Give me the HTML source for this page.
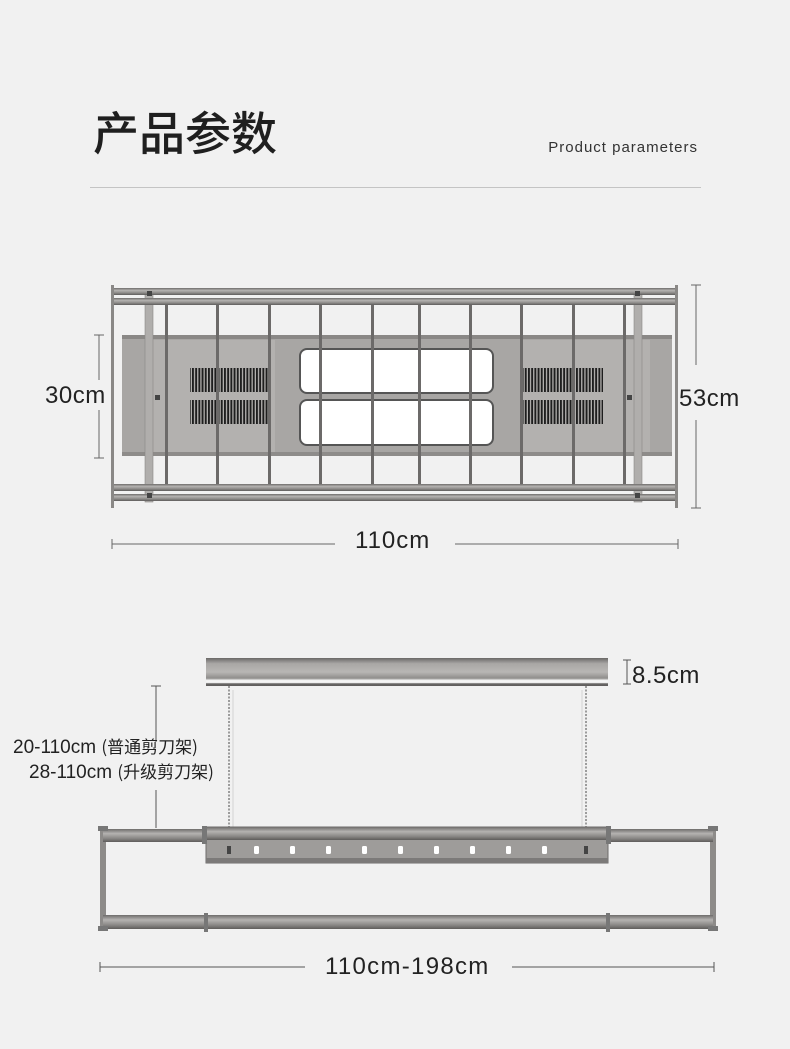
<!DOCTYPE html>
<html><head><meta charset="utf-8"><style>
html,body{margin:0;padding:0;background:#f1f1f1;}
svg{display:block}
text{font-family:"Liberation Sans","Noto Sans CJK SC",sans-serif;}
</style></head><body>
<svg width="790" height="1049" viewBox="0 0 790 1049" xmlns="http://www.w3.org/2000/svg">
<defs>
<linearGradient id="tube" x1="0" y1="0" x2="0" y2="1">
<stop offset="0" stop-color="#6e6c6b"/><stop offset="0.35" stop-color="#b5b3b1"/><stop offset="0.7" stop-color="#8c8a88"/><stop offset="1" stop-color="#5e5c5b"/>
</linearGradient>
<linearGradient id="box" x1="0" y1="0" x2="0" y2="1">
<stop offset="0" stop-color="#6a6867"/><stop offset="0.2" stop-color="#a9a7a5"/><stop offset="0.5" stop-color="#b8b6b4"/><stop offset="0.72" stop-color="#8f8d8b"/><stop offset="0.8" stop-color="#f5f5f5"/><stop offset="0.88" stop-color="#f5f5f5"/><stop offset="0.92" stop-color="#6a6867"/><stop offset="1" stop-color="#5e5c5b"/>
</linearGradient>
<pattern id="vent" width="3.2" height="10" patternUnits="userSpaceOnUse"><rect width="1.9" height="10" fill="#1e1e1e"/></pattern>
</defs>
<rect width="790" height="1049" fill="#f1f1f1"/>
<text x="93" y="150" font-size="46" font-weight="500" fill="#1f1f1f" font-family="'Noto Sans CJK SC',sans-serif">产品参数</text>
<text x="698" y="152" font-size="15" fill="#333" text-anchor="end" letter-spacing="1">Product parameters</text>
<rect x="90" y="187" width="611" height="1" fill="#c4c4c4"/>

<!-- top view -->
<rect x="122" y="335" width="550" height="121" fill="#a8a6a4"/>
<rect x="122" y="335" width="550" height="4" fill="#8a8886"/>
<rect x="122" y="452" width="550" height="4" fill="#8e8c8a"/>
<rect x="145" y="340" width="130" height="112" fill="#b3b1af"/>
<rect x="520" y="340" width="130" height="112" fill="#b3b1af"/>
<rect x="300" y="349" width="193" height="44" rx="7" fill="#fff" stroke="#555" stroke-width="2"/>
<rect x="300" y="400" width="193" height="45" rx="7" fill="#fff" stroke="#555" stroke-width="2"/>
<rect x="190" y="368" width="78" height="24" fill="url(#vent)"/>
<rect x="190" y="400" width="78" height="24" fill="url(#vent)"/>
<rect x="523" y="368" width="80" height="24" fill="url(#vent)"/>
<rect x="523" y="400" width="80" height="24" fill="url(#vent)"/>
<g fill="#6c6a69">
<rect x="165" y="303" width="3" height="183"/><rect x="216" y="303" width="3" height="183"/><rect x="268" y="303" width="3" height="183"/><rect x="319" y="303" width="3" height="183"/><rect x="371" y="303" width="3" height="183"/><rect x="418" y="303" width="3" height="183"/><rect x="469" y="303" width="3" height="183"/><rect x="520" y="303" width="3" height="183"/><rect x="572" y="303" width="3" height="183"/><rect x="623" y="303" width="3" height="183"/>
</g>
<rect x="145" y="290" width="8" height="212" fill="#b0aeac" stroke="#8a8886" stroke-width="0.6"/>
<rect x="634" y="290" width="8" height="212" fill="#b0aeac" stroke="#8a8886" stroke-width="0.6"/>
<rect x="113" y="288" width="563" height="7" fill="url(#tube)"/>
<rect x="113" y="298" width="563" height="7" fill="url(#tube)"/>
<rect x="113" y="484" width="563" height="7" fill="url(#tube)"/>
<rect x="113" y="494" width="563" height="7" fill="url(#tube)"/>
<rect x="111" y="285" width="3" height="223" fill="#8a8886"/>
<rect x="675" y="285" width="3" height="223" fill="#8a8886"/>
<g fill="#444"><rect x="147" y="291" width="5" height="5"/><rect x="635" y="291" width="5" height="5"/><rect x="147" y="493" width="5" height="5"/><rect x="635" y="493" width="5" height="5"/><rect x="155" y="395" width="5" height="5"/><rect x="627" y="395" width="5" height="5"/></g>
<!-- dims top -->
<g stroke="#666" stroke-width="1" fill="none">
<path d="M99 335V380M94 335H104M99 410V458M94 458H104"/>
<path d="M696 285V365M691 285H701M696 420V508M691 508H701"/>
<path d="M112 544H335M455 544H678M112 539V549M678 539V549"/>
</g>
<text x="45" y="403" font-size="24" fill="#222" letter-spacing="0.5">30cm</text>
<text x="679" y="406" font-size="24" fill="#222" letter-spacing="0.5">53cm</text>
<text x="355" y="548" font-size="24" fill="#222" letter-spacing="1">110cm</text>

<!-- bottom view -->
<rect x="206" y="658" width="402" height="28" fill="url(#box)"/>
<g stroke="#777" stroke-width="1.4" stroke-dasharray="2 1.5"><path d="M229 686V830M586 686V830"/></g>
<path d="M233 690V830M582 690V830" stroke="#ccc" stroke-width="0.8"/>
<g stroke="#555" stroke-width="1" fill="none">
<path d="M623 660H631M627 660V684M623 684H631"/>
<path d="M156 686V742M151 686H161M156 790V828"/>
<path d="M100 967H305M512 967H714M100 962V972M714 962V972"/>
</g>
<text x="632" y="683" font-size="24" fill="#222" letter-spacing="0.5">8.5cm</text>
<text x="13" y="753" font-size="19" fill="#222">20-110cm <tspan font-size="17" font-family="'Noto Sans CJK SC',sans-serif">(普通剪刀架)</tspan></text>
<text x="29" y="778" font-size="19" fill="#222">28-110cm <tspan font-size="17" font-family="'Noto Sans CJK SC',sans-serif">(升级剪刀架)</tspan></text>
<text x="325" y="974" font-size="24" fill="#222" letter-spacing="1.3">110cm-198cm</text>

<rect x="100" y="828" width="6" height="102" fill="#8d8b89"/>
<rect x="710" y="828" width="6" height="102" fill="#8d8b89"/>
<rect x="103" y="829" width="610" height="13" fill="url(#tube)"/>
<rect x="103" y="915" width="610" height="14" fill="url(#tube)"/>
<rect x="206" y="827" width="402" height="36" fill="#9e9c9a" stroke="#6d6b6a" stroke-width="1"/>
<rect x="206" y="827" width="402" height="13" fill="url(#tube)"/>
<rect x="206" y="858" width="402" height="5" fill="#7c7a79"/>
<g fill="#fff">
<rect x="254" y="846" width="5" height="8" rx="1.5"/><rect x="290" y="846" width="5" height="8" rx="1.5"/><rect x="326" y="846" width="5" height="8" rx="1.5"/><rect x="362" y="846" width="5" height="8" rx="1.5"/><rect x="398" y="846" width="5" height="8" rx="1.5"/><rect x="434" y="846" width="5" height="8" rx="1.5"/><rect x="470" y="846" width="5" height="8" rx="1.5"/><rect x="506" y="846" width="5" height="8" rx="1.5"/><rect x="542" y="846" width="5" height="8" rx="1.5"/>
</g>
<g fill="#444"><rect x="227" y="846" width="4" height="8"/><rect x="584" y="846" width="4" height="8"/></g>
<g fill="#777"><rect x="98" y="826" width="10" height="5"/><rect x="98" y="926" width="10" height="5"/><rect x="708" y="826" width="10" height="5"/><rect x="708" y="926" width="10" height="5"/><rect x="202" y="826" width="5" height="18"/><rect x="606" y="826" width="5" height="18"/><rect x="204" y="913" width="4" height="19"/><rect x="606" y="913" width="4" height="19"/></g>
</svg>
</body></html>
